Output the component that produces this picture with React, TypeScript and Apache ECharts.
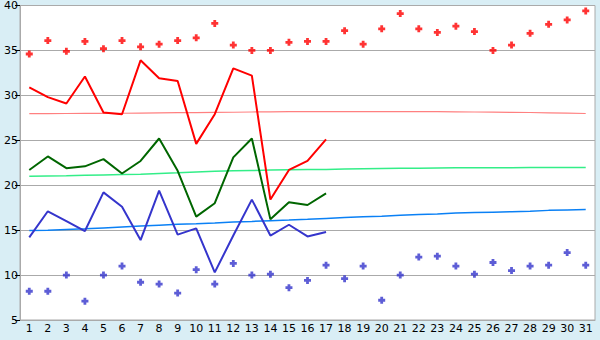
import React, { useEffect, useRef } from "react";
import * as echarts from "echarts";

const days = Array.from({ length: 31 }, (_, i) => String(i + 1));

const highMarks = [34.6, 36.1, 34.9, 36.0, 35.2, 36.1, 35.4, 35.7, 36.1, 36.4, 38.0, 35.6, 35.0, 35.0, 35.9, 36.0, 36.0, 37.2, 35.7, 37.4, 39.1, 37.4, 37.0, 37.7, 37.1, 35.0, 35.6, 36.9, 37.9, 38.4, 39.4];
const lowMarks = [8.2, 8.2, 10.0, 7.1, 10.0, 11.0, 9.2, 9.0, 8.0, 10.6, 9.0, 11.3, 10.0, 10.1, 8.6, 9.4, 11.1, 9.6, 11.0, 7.2, 10.0, 12.0, 12.1, 11.0, 10.1, 11.4, 10.5, 11.0, 11.1, 12.5, 11.1];

const maxLine = [30.9, 29.8, 29.1, 32.1, 28.1, 27.9, 33.9, 31.9, 31.6, 24.6, 27.9, 33.0, 32.2, 18.4, 21.7, 22.7, 25.1];
const meanLine = [21.7, 23.2, 21.9, 22.1, 22.9, 21.3, 22.7, 25.2, 21.6, 16.5, 18.0, 23.1, 25.2, 16.2, 18.1, 17.8, 19.1];
const minLine = [14.2, 17.1, 16.0, 14.9, 19.2, 17.6, 13.9, 19.4, 14.5, 15.2, 10.3, 14.4, 18.4, 14.4, 15.6, 14.3, 14.8];

const normalMax = [27.96, 27.97, 27.98, 27.99, 28.0, 28.01, 28.03, 28.05, 28.07, 28.08, 28.1, 28.12, 28.15, 28.17, 28.18, 28.19, 28.2, 28.2, 28.2, 28.2, 28.2, 28.19, 28.18, 28.17, 28.15, 28.13, 28.11, 28.09, 28.06, 28.02, 27.98];
const normalMean = [21.0, 21.03, 21.06, 21.1, 21.14, 21.18, 21.22, 21.3, 21.38, 21.48, 21.55, 21.6, 21.64, 21.68, 21.72, 21.74, 21.76, 21.8, 21.83, 21.86, 21.88, 21.9, 21.92, 21.93, 21.94, 21.95, 21.95, 21.96, 21.96, 21.97, 21.97];
const normalMin = [14.95, 15.0, 15.08, 15.15, 15.25, 15.35, 15.45, 15.55, 15.65, 15.72, 15.8, 15.9, 15.97, 16.05, 16.12, 16.2, 16.3, 16.4, 16.5, 16.55, 16.65, 16.75, 16.8, 16.9, 16.95, 17.0, 17.05, 17.1, 17.2, 17.25, 17.3];

const yTicks = { min: 5, max: 40, interval: 5 };

const MARK = "path://M1.5,0H3.5V1.5H5V3.5H3.5V5H1.5V3.5H0V1.5H1.5Z";
const FONT = "DejaVu Sans";

function lineSeries(data: number[], color: string, width: number, z: number) {
  return {
    type: "line",
    data,
    showSymbol: false,
    symbol: "none",
    lineStyle: { color, width },
    itemStyle: { color },
    z,
  };
}

export default function App() {
  const ref = useRef<HTMLDivElement>(null);
  useEffect(() => {
    if (!ref.current) return;
    const chart = echarts.init(ref.current, null, { renderer: "svg" });
    chart.setOption({
      animation: false,
      backgroundColor: "#d9eef5",
      grid: {
        left: 20,
        right: 5,
        top: 5,
        bottom: 20,
        show: true,
        backgroundColor: "#ffffff",
        borderColor: "#aaaaaa",
        borderWidth: 1,
      },
      xAxis: {
        type: "category",
        data: days,
        boundaryGap: true,
        axisLine: { lineStyle: { color: "#aaaaaa" } },
        axisTick: { alignWithLabel: true, length: 5, lineStyle: { color: "#000000" } },
        axisLabel: { color: "#000000", fontFamily: FONT, fontSize: 11, margin: 3, interval: 0 },
        splitLine: { show: false },
      },
      yAxis: {
        type: "value",
        min: yTicks.min,
        max: yTicks.max,
        interval: yTicks.interval,
        axisLine: { show: true, lineStyle: { color: "#aaaaaa" } },
        axisTick: { show: true, length: 5, lineStyle: { color: "#000000" } },
        axisLabel: { color: "#000000", fontFamily: FONT, fontSize: 11, margin: 2 },
        splitLine: { show: true, lineStyle: { color: "#aaaaaa", width: 1 } },
      },
      series: [
        lineSeries(normalMax, "#ff8080", 1.2, 2),
        lineSeries(normalMean, "#33ee88", 1.5, 2),
        lineSeries(normalMin, "#0a80f5", 1.5, 2),
        lineSeries(maxLine, "#ff0000", 2, 3),
        lineSeries(meanLine, "#006600", 2, 3),
        lineSeries(minLine, "#3535cc", 2, 3),
        {
          type: "scatter",
          data: highMarks,
          symbol: MARK,
          symbolSize: 7,
          itemStyle: { color: "#ff0000" },
          z: 4,
        },
        {
          type: "scatter",
          data: lowMarks,
          symbol: MARK,
          symbolSize: 7,
          itemStyle: { color: "#3535cc" },
          z: 4,
        },
      ],
    });
    return () => chart.dispose();
  }, []);
  return (
    <div
      ref={ref}
      style={{ position: "fixed", left: 0, top: 0, width: 600, height: 340 }}
    />
  );
}
